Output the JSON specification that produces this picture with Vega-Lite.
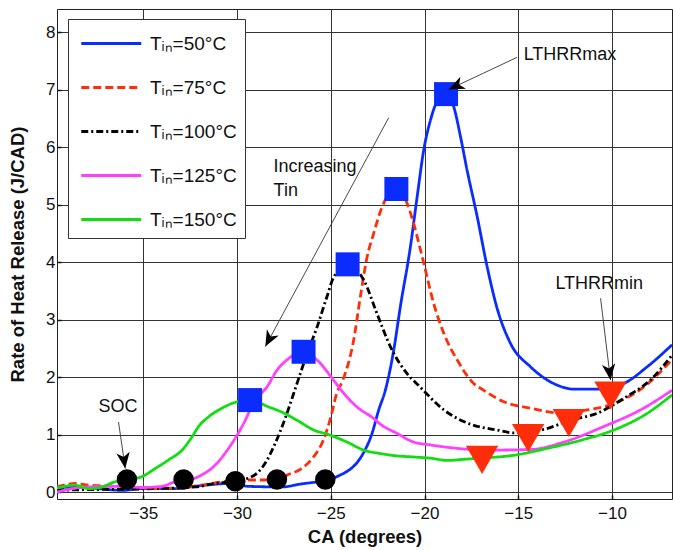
{
  "$schema": "https://vega.github.io/schema/vega-lite/v6.json",
  "width": 615,
  "height": 490,
  "autosize": {"type": "none"},
  "padding": {"left": 57, "top": 9, "right": 1, "bottom": 51},
  "background": "white",
  "config": {
    "view": {"stroke": "#222", "strokeWidth": 1},
    "font": "Liberation Sans",
    "axis": {
      "labelFont": "Liberation Sans",
      "labelFontSize": 17,
      "labelColor": "#111",
      "titleFont": "Liberation Sans",
      "titleFontWeight": "bold",
      "titleColor": "#111",
      "gridColor": "#333",
      "gridWidth": 1,
      "gridOpacity": 1,
      "domain": false,
      "tickColor": "#111",
      "tickSize": -4,
      "tickWidth": 1.5
    }
  },
  "datasets": {
    "curves": [
      {"ca": -39.6, "rhr": 0.07, "s": "Tᵢₙ=50°C"},
      {"ca": -38.6, "rhr": 0.09, "s": "Tᵢₙ=50°C"},
      {"ca": -37.4, "rhr": 0.06, "s": "Tᵢₙ=50°C"},
      {"ca": -36.1, "rhr": 0.03, "s": "Tᵢₙ=50°C"},
      {"ca": -35.1, "rhr": 0.06, "s": "Tᵢₙ=50°C"},
      {"ca": -33.5, "rhr": 0.06, "s": "Tᵢₙ=50°C"},
      {"ca": -31.7, "rhr": 0.12, "s": "Tᵢₙ=50°C"},
      {"ca": -30.5, "rhr": 0.15, "s": "Tᵢₙ=50°C"},
      {"ca": -29.4, "rhr": 0.1, "s": "Tᵢₙ=50°C"},
      {"ca": -27.6, "rhr": 0.09, "s": "Tᵢₙ=50°C"},
      {"ca": -26.6, "rhr": 0.14, "s": "Tᵢₙ=50°C"},
      {"ca": -25.7, "rhr": 0.18, "s": "Tᵢₙ=50°C"},
      {"ca": -25.3, "rhr": 0.2, "s": "Tᵢₙ=50°C"},
      {"ca": -24.66, "rhr": 0.27, "s": "Tᵢₙ=50°C"},
      {"ca": -23.33, "rhr": 0.64, "s": "Tᵢₙ=50°C"},
      {"ca": -22.8, "rhr": 1.02, "s": "Tᵢₙ=50°C"},
      {"ca": -22.44, "rhr": 1.43, "s": "Tᵢₙ=50°C"},
      {"ca": -22.09, "rhr": 1.77, "s": "Tᵢₙ=50°C"},
      {"ca": -21.64, "rhr": 2.47, "s": "Tᵢₙ=50°C"},
      {"ca": -21.29, "rhr": 3.22, "s": "Tᵢₙ=50°C"},
      {"ca": -20.75, "rhr": 4.27, "s": "Tᵢₙ=50°C"},
      {"ca": -20.39, "rhr": 5.14, "s": "Tᵢₙ=50°C"},
      {"ca": -20.04, "rhr": 5.95, "s": "Tᵢₙ=50°C"},
      {"ca": -19.68, "rhr": 6.47, "s": "Tᵢₙ=50°C"},
      {"ca": -19.33, "rhr": 6.79, "s": "Tᵢₙ=50°C"},
      {"ca": -18.85, "rhr": 6.92, "s": "Tᵢₙ=50°C"},
      {"ca": -18.44, "rhr": 6.7, "s": "Tᵢₙ=50°C"},
      {"ca": -18.08, "rhr": 6.18, "s": "Tᵢₙ=50°C"},
      {"ca": -17.73, "rhr": 5.6, "s": "Tᵢₙ=50°C"},
      {"ca": -17.19, "rhr": 4.79, "s": "Tᵢₙ=50°C"},
      {"ca": -16.66, "rhr": 3.92, "s": "Tᵢₙ=50°C"},
      {"ca": -16.13, "rhr": 3.2, "s": "Tᵢₙ=50°C"},
      {"ca": -15.42, "rhr": 2.59, "s": "Tᵢₙ=50°C"},
      {"ca": -14.35, "rhr": 2.18, "s": "Tᵢₙ=50°C"},
      {"ca": -12.92, "rhr": 1.86, "s": "Tᵢₙ=50°C"},
      {"ca": -12.04, "rhr": 1.79, "s": "Tᵢₙ=50°C"},
      {"ca": -10.79, "rhr": 1.79, "s": "Tᵢₙ=50°C"},
      {"ca": -9.37, "rhr": 1.89, "s": "Tᵢₙ=50°C"},
      {"ca": -8.12, "rhr": 2.18, "s": "Tᵢₙ=50°C"},
      {"ca": -6.8, "rhr": 2.56, "s": "Tᵢₙ=50°C"},

      {"ca": -39.6, "rhr": 0.09, "s": "Tᵢₙ=75°C"},
      {"ca": -38.6, "rhr": 0.15, "s": "Tᵢₙ=75°C"},
      {"ca": -37.9, "rhr": 0.12, "s": "Tᵢₙ=75°C"},
      {"ca": -36.1, "rhr": 0.1, "s": "Tᵢₙ=75°C"},
      {"ca": -34.4, "rhr": 0.06, "s": "Tᵢₙ=75°C"},
      {"ca": -32.9, "rhr": 0.08, "s": "Tᵢₙ=75°C"},
      {"ca": -31.9, "rhr": 0.12, "s": "Tᵢₙ=75°C"},
      {"ca": -30.8, "rhr": 0.18, "s": "Tᵢₙ=75°C"},
      {"ca": -29.7, "rhr": 0.21, "s": "Tᵢₙ=75°C"},
      {"ca": -28.7, "rhr": 0.21, "s": "Tᵢₙ=75°C"},
      {"ca": -27.6, "rhr": 0.25, "s": "Tᵢₙ=75°C"},
      {"ca": -27.3, "rhr": 0.3, "s": "Tᵢₙ=75°C"},
      {"ca": -26.6, "rhr": 0.4, "s": "Tᵢₙ=75°C"},
      {"ca": -26.0, "rhr": 0.58, "s": "Tᵢₙ=75°C"},
      {"ca": -25.4, "rhr": 0.9, "s": "Tᵢₙ=75°C"},
      {"ca": -25.0, "rhr": 1.3, "s": "Tᵢₙ=75°C"},
      {"ca": -24.7, "rhr": 1.7, "s": "Tᵢₙ=75°C"},
      {"ca": -24.35, "rhr": 1.95, "s": "Tᵢₙ=75°C"},
      {"ca": -23.78, "rhr": 2.64, "s": "Tᵢₙ=75°C"},
      {"ca": -23.42, "rhr": 3.4, "s": "Tᵢₙ=75°C"},
      {"ca": -23.06, "rhr": 4.09, "s": "Tᵢₙ=75°C"},
      {"ca": -22.71, "rhr": 4.5, "s": "Tᵢₙ=75°C"},
      {"ca": -22.26, "rhr": 4.96, "s": "Tᵢₙ=75°C"},
      {"ca": -21.5, "rhr": 5.27, "s": "Tᵢₙ=75°C"},
      {"ca": -20.93, "rhr": 5.02, "s": "Tᵢₙ=75°C"},
      {"ca": -20.58, "rhr": 4.67, "s": "Tᵢₙ=75°C"},
      {"ca": -20.04, "rhr": 3.98, "s": "Tᵢₙ=75°C"},
      {"ca": -19.51, "rhr": 3.28, "s": "Tᵢₙ=75°C"},
      {"ca": -18.97, "rhr": 2.76, "s": "Tᵢₙ=75°C"},
      {"ca": -18.26, "rhr": 2.3, "s": "Tᵢₙ=75°C"},
      {"ca": -17.38, "rhr": 1.89, "s": "Tᵢₙ=75°C"},
      {"ca": -16.84, "rhr": 1.77, "s": "Tᵢₙ=75°C"},
      {"ca": -15.77, "rhr": 1.57, "s": "Tᵢₙ=75°C"},
      {"ca": -14.35, "rhr": 1.46, "s": "Tᵢₙ=75°C"},
      {"ca": -12.92, "rhr": 1.38, "s": "Tᵢₙ=75°C"},
      {"ca": -11.32, "rhr": 1.43, "s": "Tᵢₙ=75°C"},
      {"ca": -9.9, "rhr": 1.54, "s": "Tᵢₙ=75°C"},
      {"ca": -8.3, "rhr": 1.83, "s": "Tᵢₙ=75°C"},
      {"ca": -6.8, "rhr": 2.3, "s": "Tᵢₙ=75°C"},

      {"ca": -39.6, "rhr": 0.03, "s": "Tᵢₙ=100°C"},
      {"ca": -38.6, "rhr": 0.04, "s": "Tᵢₙ=100°C"},
      {"ca": -36.0, "rhr": 0.05, "s": "Tᵢₙ=100°C"},
      {"ca": -34.4, "rhr": 0.06, "s": "Tᵢₙ=100°C"},
      {"ca": -32.2, "rhr": 0.09, "s": "Tᵢₙ=100°C"},
      {"ca": -31.2, "rhr": 0.15, "s": "Tᵢₙ=100°C"},
      {"ca": -30.3, "rhr": 0.18, "s": "Tᵢₙ=100°C"},
      {"ca": -29.2, "rhr": 0.27, "s": "Tᵢₙ=100°C"},
      {"ca": -28.5, "rhr": 0.5, "s": "Tᵢₙ=100°C"},
      {"ca": -27.96, "rhr": 0.85, "s": "Tᵢₙ=100°C"},
      {"ca": -27.4, "rhr": 1.31, "s": "Tᵢₙ=100°C"},
      {"ca": -26.8, "rhr": 1.89, "s": "Tᵢₙ=100°C"},
      {"ca": -26.26, "rhr": 2.41, "s": "Tᵢₙ=100°C"},
      {"ca": -25.73, "rhr": 2.87, "s": "Tᵢₙ=100°C"},
      {"ca": -25.2, "rhr": 3.4, "s": "Tᵢₙ=100°C"},
      {"ca": -24.84, "rhr": 3.74, "s": "Tᵢₙ=100°C"},
      {"ca": -24.1, "rhr": 3.96, "s": "Tᵢₙ=100°C"},
      {"ca": -23.2, "rhr": 3.66, "s": "Tᵢₙ=100°C"},
      {"ca": -22.53, "rhr": 3.1, "s": "Tᵢₙ=100°C"},
      {"ca": -21.82, "rhr": 2.53, "s": "Tᵢₙ=100°C"},
      {"ca": -20.93, "rhr": 2.06, "s": "Tᵢₙ=100°C"},
      {"ca": -20.3, "rhr": 1.85, "s": "Tᵢₙ=100°C"},
      {"ca": -18.97, "rhr": 1.43, "s": "Tᵢₙ=100°C"},
      {"ca": -17.55, "rhr": 1.18, "s": "Tᵢₙ=100°C"},
      {"ca": -16.13, "rhr": 1.08, "s": "Tᵢₙ=100°C"},
      {"ca": -15.24, "rhr": 1.03, "s": "Tᵢₙ=100°C"},
      {"ca": -13.64, "rhr": 1.09, "s": "Tᵢₙ=100°C"},
      {"ca": -12.21, "rhr": 1.25, "s": "Tᵢₙ=100°C"},
      {"ca": -10.79, "rhr": 1.37, "s": "Tᵢₙ=100°C"},
      {"ca": -9.37, "rhr": 1.63, "s": "Tᵢₙ=100°C"},
      {"ca": -7.95, "rhr": 1.95, "s": "Tᵢₙ=100°C"},
      {"ca": -6.8, "rhr": 2.38, "s": "Tᵢₙ=100°C"},

      {"ca": -39.6, "rhr": 0.0, "s": "Tᵢₙ=125°C"},
      {"ca": -38.6, "rhr": 0.07, "s": "Tᵢₙ=125°C"},
      {"ca": -37.9, "rhr": 0.09, "s": "Tᵢₙ=125°C"},
      {"ca": -36.1, "rhr": 0.1, "s": "Tᵢₙ=125°C"},
      {"ca": -35.07, "rhr": 0.08, "s": "Tᵢₙ=125°C"},
      {"ca": -34.0, "rhr": 0.1, "s": "Tᵢₙ=125°C"},
      {"ca": -33.3, "rhr": 0.18, "s": "Tᵢₙ=125°C"},
      {"ca": -32.58, "rhr": 0.21, "s": "Tᵢₙ=125°C"},
      {"ca": -31.87, "rhr": 0.3, "s": "Tᵢₙ=125°C"},
      {"ca": -31.16, "rhr": 0.47, "s": "Tᵢₙ=125°C"},
      {"ca": -30.45, "rhr": 0.76, "s": "Tᵢₙ=125°C"},
      {"ca": -29.73, "rhr": 1.14, "s": "Tᵢₙ=125°C"},
      {"ca": -29.02, "rhr": 1.6, "s": "Tᵢₙ=125°C"},
      {"ca": -28.4, "rhr": 1.83, "s": "Tᵢₙ=125°C"},
      {"ca": -27.87, "rhr": 2.12, "s": "Tᵢₙ=125°C"},
      {"ca": -27.33, "rhr": 2.3, "s": "Tᵢₙ=125°C"},
      {"ca": -26.45, "rhr": 2.44, "s": "Tᵢₙ=125°C"},
      {"ca": -25.56, "rhr": 2.24, "s": "Tᵢₙ=125°C"},
      {"ca": -25.02, "rhr": 2.02, "s": "Tᵢₙ=125°C"},
      {"ca": -24.31, "rhr": 1.72, "s": "Tᵢₙ=125°C"},
      {"ca": -23.6, "rhr": 1.48, "s": "Tᵢₙ=125°C"},
      {"ca": -22.71, "rhr": 1.28, "s": "Tᵢₙ=125°C"},
      {"ca": -22.35, "rhr": 1.18, "s": "Tᵢₙ=125°C"},
      {"ca": -21.46, "rhr": 1.02, "s": "Tᵢₙ=125°C"},
      {"ca": -20.58, "rhr": 0.87, "s": "Tᵢₙ=125°C"},
      {"ca": -19.68, "rhr": 0.82, "s": "Tᵢₙ=125°C"},
      {"ca": -18.79, "rhr": 0.78, "s": "Tᵢₙ=125°C"},
      {"ca": -17.91, "rhr": 0.75, "s": "Tᵢₙ=125°C"},
      {"ca": -16.66, "rhr": 0.73, "s": "Tᵢₙ=125°C"},
      {"ca": -14.35, "rhr": 0.74, "s": "Tᵢₙ=125°C"},
      {"ca": -12.57, "rhr": 0.87, "s": "Tᵢₙ=125°C"},
      {"ca": -10.44, "rhr": 1.14, "s": "Tᵢₙ=125°C"},
      {"ca": -8.48, "rhr": 1.43, "s": "Tᵢₙ=125°C"},
      {"ca": -6.8, "rhr": 1.77, "s": "Tᵢₙ=125°C"},

      {"ca": -39.7, "rhr": 0.06, "s": "Tᵢₙ=150°C"},
      {"ca": -38.63, "rhr": 0.12, "s": "Tᵢₙ=150°C"},
      {"ca": -37.9, "rhr": 0.06, "s": "Tᵢₙ=150°C"},
      {"ca": -37.2, "rhr": 0.09, "s": "Tᵢₙ=150°C"},
      {"ca": -36.5, "rhr": 0.18, "s": "Tᵢₙ=150°C"},
      {"ca": -35.87, "rhr": 0.21, "s": "Tᵢₙ=150°C"},
      {"ca": -35.07, "rhr": 0.27, "s": "Tᵢₙ=150°C"},
      {"ca": -34.36, "rhr": 0.41, "s": "Tᵢₙ=150°C"},
      {"ca": -33.65, "rhr": 0.56, "s": "Tᵢₙ=150°C"},
      {"ca": -32.93, "rhr": 0.73, "s": "Tᵢₙ=150°C"},
      {"ca": -32.4, "rhr": 0.96, "s": "Tᵢₙ=150°C"},
      {"ca": -32.05, "rhr": 1.14, "s": "Tᵢₙ=150°C"},
      {"ca": -31.51, "rhr": 1.31, "s": "Tᵢₙ=150°C"},
      {"ca": -30.8, "rhr": 1.46, "s": "Tᵢₙ=150°C"},
      {"ca": -30.0, "rhr": 1.57, "s": "Tᵢₙ=150°C"},
      {"ca": -29.3, "rhr": 1.6, "s": "Tᵢₙ=150°C"},
      {"ca": -28.31, "rhr": 1.48, "s": "Tᵢₙ=150°C"},
      {"ca": -27.6, "rhr": 1.39, "s": "Tᵢₙ=150°C"},
      {"ca": -26.8, "rhr": 1.25, "s": "Tᵢₙ=150°C"},
      {"ca": -25.91, "rhr": 1.08, "s": "Tᵢₙ=150°C"},
      {"ca": -25.02, "rhr": 0.99, "s": "Tᵢₙ=150°C"},
      {"ca": -24.13, "rhr": 0.87, "s": "Tᵢₙ=150°C"},
      {"ca": -23.24, "rhr": 0.73, "s": "Tᵢₙ=150°C"},
      {"ca": -22.35, "rhr": 0.67, "s": "Tᵢₙ=150°C"},
      {"ca": -21.46, "rhr": 0.63, "s": "Tᵢₙ=150°C"},
      {"ca": -20.58, "rhr": 0.61, "s": "Tᵢₙ=150°C"},
      {"ca": -19.68, "rhr": 0.59, "s": "Tᵢₙ=150°C"},
      {"ca": -18.79, "rhr": 0.55, "s": "Tᵢₙ=150°C"},
      {"ca": -17.91, "rhr": 0.57, "s": "Tᵢₙ=150°C"},
      {"ca": -17.02, "rhr": 0.59, "s": "Tᵢₙ=150°C"},
      {"ca": -15.24, "rhr": 0.64, "s": "Tᵢₙ=150°C"},
      {"ca": -13.46, "rhr": 0.76, "s": "Tᵢₙ=150°C"},
      {"ca": -11.68, "rhr": 0.9, "s": "Tᵢₙ=150°C"},
      {"ca": -9.9, "rhr": 1.08, "s": "Tᵢₙ=150°C"},
      {"ca": -8.12, "rhr": 1.37, "s": "Tᵢₙ=150°C"},
      {"ca": -6.8, "rhr": 1.69, "s": "Tᵢₙ=150°C"}
    ],
    "lthrrmax": [
      {"ca": -18.85, "rhr": 6.92}, {"ca": -21.5, "rhr": 5.27}, {"ca": -24.1, "rhr": 3.96},
      {"ca": -26.45, "rhr": 2.44}, {"ca": -29.3, "rhr": 1.6}
    ],
    "soc": [
      {"ca": -35.87, "rhr": 0.22}, {"ca": -32.85, "rhr": 0.22}, {"ca": -30.09, "rhr": 0.19},
      {"ca": -27.87, "rhr": 0.22}, {"ca": -25.29, "rhr": 0.22}
    ],
    "lthrrmin": [
      {"ca": -16.93, "rhr": 0.56}, {"ca": -14.47, "rhr": 0.94}, {"ca": -12.3, "rhr": 1.2},
      {"ca": -10.08, "rhr": 1.68}
    ]
  },
  "layer": [
    {
      "data": {"name": "curves"},
      "mark": {"type": "line", "clip": true, "strokeWidth": 2.8, "interpolate": "monotone"},
      "encoding": {
        "x": {
          "field": "ca", "type": "quantitative",
          "scale": {"domain": [-39.6, -6.8], "nice": false, "zero": false},
          "axis": {"values": [-35, -30, -25, -20, -15, -10], "title": "CA (degrees)", "titleFontSize": 18.5, "labelPadding": 10, "titlePadding": 6}
        },
        "y": {
          "field": "rhr", "type": "quantitative",
          "scale": {"domain": [-0.12, 8.4], "nice": false, "zero": false},
          "axis": {"values": [0, 1, 2, 3, 4, 5, 6, 7, 8], "format": "d", "title": "Rate of Heat Release (J/CAD)", "titleFontSize": 18.5, "labelPadding": 6, "titlePadding": 18}
        },
        "color": {
          "field": "s", "type": "nominal",
          "scale": {
            "domain": ["Tᵢₙ=50°C", "Tᵢₙ=75°C", "Tᵢₙ=100°C", "Tᵢₙ=125°C", "Tᵢₙ=150°C"],
            "range": ["#0a2cff", "#ff2d0a", "#000000", "#ff40ff", "#11dd11"]
          },
          "legend": {
            "title": null, "orient": "none", "legendX": 11, "legendY": 10,
            "symbolType": "M-0.75,0L3.25,0", "symbolSize": 900, "symbolStrokeWidth": 3,
            "labelFont": "Liberation Sans", "labelFontSize": 19, "labelColor": "#111",
            "labelOffset": 41, "rowPadding": 17, "padding": 8,
            "strokeColor": "#333", "fillColor": "white"
          }
        },
        "strokeDash": {
          "field": "s", "type": "nominal",
          "scale": {
            "domain": ["Tᵢₙ=50°C", "Tᵢₙ=75°C", "Tᵢₙ=100°C", "Tᵢₙ=125°C", "Tᵢₙ=150°C"],
            "range": [[1, 0], [8, 4], [7, 3, 2, 3], [1, 0], [1, 0]]
          }
        },
        "order": {"field": "ca", "type": "quantitative"}
      }
    },
    {
      "data": {"name": "lthrrmax"},
      "mark": {"type": "point", "shape": "square", "filled": true, "size": 576, "color": "#0a2cff", "opacity": 1},
      "encoding": {"x": {"field": "ca", "type": "quantitative"}, "y": {"field": "rhr", "type": "quantitative"}}
    },
    {
      "data": {"name": "soc"},
      "mark": {"type": "point", "shape": "circle", "filled": true, "size": 420, "color": "#000000", "opacity": 1},
      "encoding": {"x": {"field": "ca", "type": "quantitative"}, "y": {"field": "rhr", "type": "quantitative"}}
    },
    {
      "data": {"name": "lthrrmin"},
      "mark": {"type": "point", "shape": "triangle-down", "filled": true, "size": 1050, "color": "#ff2d0a", "opacity": 1},
      "encoding": {"x": {"field": "ca", "type": "quantitative"}, "y": {"field": "rhr", "type": "quantitative"}}
    },
    {
      "data": {"values": [
        {"x1": -15.06, "y1": 7.56, "x2": -18.71, "y2": 7.0},
        {"x1": -10.61, "y1": 3.37, "x2": -10.08, "y2": 1.95},
        {"x1": -36.32, "y1": 1.22, "x2": -35.96, "y2": 0.41},
        {"x1": -21.91, "y1": 6.51, "x2": -28.49, "y2": 2.53}
      ]},
      "mark": {"type": "rule", "color": "#333", "strokeWidth": 0.9},
      "encoding": {
        "x": {"field": "x1", "type": "quantitative"}, "y": {"field": "y1", "type": "quantitative"},
        "x2": {"field": "x2"}, "y2": {"field": "y2"}
      }
    },
    {
      "data": {"values": [{"x": -18.71, "y": 7.0}]},
      "mark": {"type": "point", "shape": "M0,0L0.42,1L0,0.72L-0.42,1Z", "filled": true, "size": 1024, "color": "#000", "opacity": 1, "angle": 245},
      "encoding": {"x": {"field": "x", "type": "quantitative"}, "y": {"field": "y", "type": "quantitative"}}
    },
    {
      "data": {"values": [{"x": -10.08, "y": 1.95}]},
      "mark": {"type": "point", "shape": "M0,0L0.42,1L0,0.72L-0.42,1Z", "filled": true, "size": 1024, "color": "#000", "opacity": 1, "angle": 173},
      "encoding": {"x": {"field": "x", "type": "quantitative"}, "y": {"field": "y", "type": "quantitative"}}
    },
    {
      "data": {"values": [{"x": -35.96, "y": 0.41}]},
      "mark": {"type": "point", "shape": "M0,0L0.42,1L0,0.72L-0.42,1Z", "filled": true, "size": 1024, "color": "#000", "opacity": 1, "angle": 172},
      "encoding": {"x": {"field": "x", "type": "quantitative"}, "y": {"field": "y", "type": "quantitative"}}
    },
    {
      "data": {"values": [{"x": -28.49, "y": 2.53}]},
      "mark": {"type": "point", "shape": "M0,0L0.42,1L0,0.72L-0.42,1Z", "filled": true, "size": 1024, "color": "#000", "opacity": 1, "angle": 208},
      "encoding": {"x": {"field": "x", "type": "quantitative"}, "y": {"field": "y", "type": "quantitative"}}
    },
    {
      "data": {"values": [
        {"x": -14.71, "y": 7.51, "t": "LTHRRmax"},
        {"x": -13.02, "y": 3.54, "t": "LTHRRmin"},
        {"x": -37.39, "y": 1.39, "t": "SOC"},
        {"x": -28.05, "y": 5.57, "t": "Increasing"},
        {"x": -28.05, "y": 5.14, "t": "Tin"}
      ]},
      "mark": {"type": "text", "align": "left", "baseline": "alphabetic", "font": "Liberation Sans", "fontSize": 18, "color": "#111"},
      "encoding": {
        "x": {"field": "x", "type": "quantitative"}, "y": {"field": "y", "type": "quantitative"},
        "text": {"field": "t"}
      }
    }
  ]
}
